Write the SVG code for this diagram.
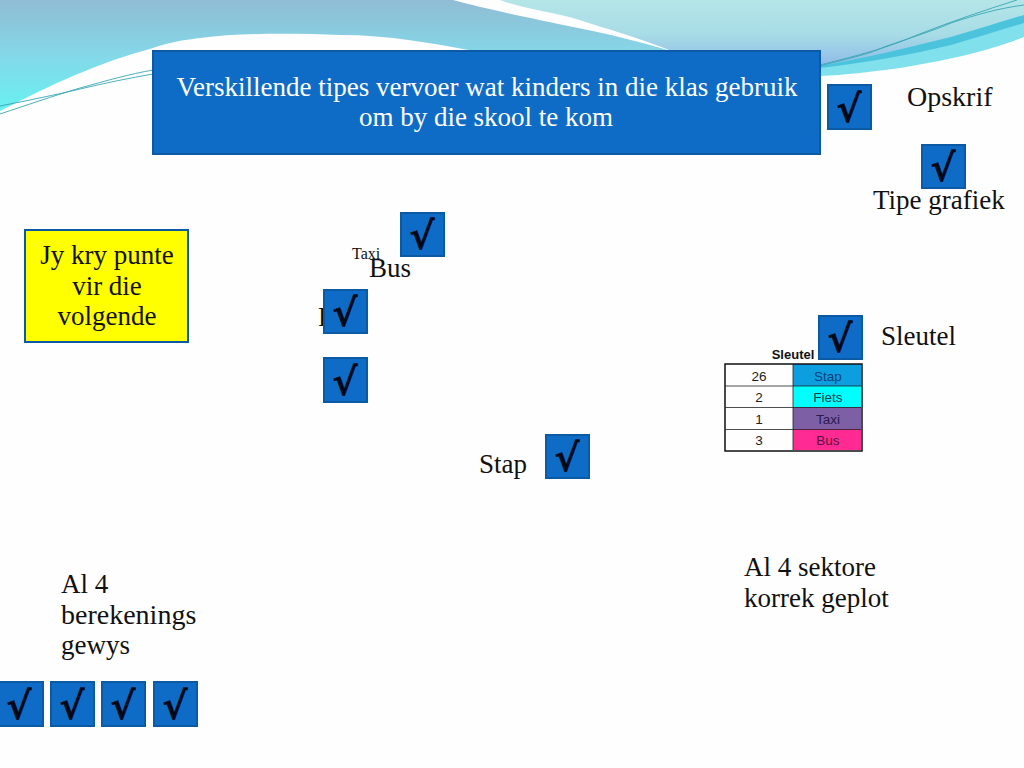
<svg xmlns="http://www.w3.org/2000/svg" width="1024" height="768" viewBox="0 0 1024 768">
<style>
.t{font-family:"Liberation Serif",serif;fill:#111}
.l{font-size:27px}
.c rect{fill:#0f6cc6;stroke:#0d5aa4;stroke-width:2}
.c text{font-family:"DejaVu Serif",serif;font-size:38px;font-weight:bold;fill:#020818;stroke:#020818;stroke-width:.6;text-anchor:middle}
.k{font-family:"Liberation Sans",sans-serif;font-size:13.5px;text-anchor:middle}
</style>
<defs>
<linearGradient id="a" gradientUnits="userSpaceOnUse" x1="0" y1="0" x2="0" y2="110"><stop offset="0" stop-color="#90bcd4"/><stop offset=".5" stop-color="#84d8e8"/><stop offset="1" stop-color="#68f0f2"/></linearGradient>
<linearGradient id="b" gradientUnits="userSpaceOnUse" x1="0" y1="0" x2="0" y2="68"><stop offset="0" stop-color="#b4e6e8"/><stop offset=".5" stop-color="#a8dce6"/><stop offset="1" stop-color="#8cb8e8"/></linearGradient>
</defs>
<rect width="1024" height="768" fill="#fefefe"/>
<path d="M0 0H453C490 10 540 20 573 27C610 34 640 42 674 52H480C430 43 390 35 340 35C290 33 240 33 200 38C175 41 165 44 153 48C100 62 50 85 0 111Z" fill="url(#a)"/>
<path d="M500 0H1024V15C960 40 890 60 820 68V52H674C640 38 610 30 573 18C545 11 520 8 500 0Z" fill="url(#b)"/>
<path d="M820 66C870 57 910 47 951 37C975 30 1000 22 1024 15V37C990 50 960 58 900 68C870 72 845 75 820 76Z" fill="#80e0ec"/>
<path d="M820 66C870 57 910 47 951 37C975 30 1000 22 1024 15V23C1000 30 975 38 951 45C910 55 870 62 820 68Z" fill="#4cc3dc"/>
<path d="M820 65C860 55 890 47 917 35C950 22 985 10 1017 0M820 66C850 58 870 54 884 47C910 38 935 30 951 23C975 15 1000 8 1024 5" fill="none" stroke="#3aa6b4" stroke-width=".9"/>
<path d="M0 114C30 104 50 97 80 88C105 81 130 74 153 70M0 106C30 100 55 95 80 89C105 83 130 78 153 74" fill="none" stroke="#3aa6b4" stroke-width=".9"/>
<g id="title"><rect x="153" y="51" width="667" height="103" fill="#0f6cc6" stroke="#0d5aa4" stroke-width="2"/>
<text x="487" y="96" text-anchor="middle" font-family="Liberation Serif,serif" font-size="27" fill="#fff">Verskillende tipes vervoer wat kinders in die klas gebruik</text>
<text x="486" y="126" text-anchor="middle" font-family="Liberation Serif,serif" font-size="27" fill="#fff">om by die skool te kom</text></g>
<g id="note"><rect x="25" y="230" width="163" height="112" fill="#ffff00" stroke="#0d5aa4" stroke-width="2"/>
<g class="t l" text-anchor="middle"><text x="107" y="264">Jy kry punte</text><text x="107" y="295">vir die</text><text x="107" y="325">volgende</text></g></g>
<g id="labels" class="t l">
<text x="907" y="106" font-size="28">Opskrif</text>
<text x="873" y="209">Tipe grafiek</text>
<text x="369" y="277">Bus</text>
<text x="352" y="259" style="font-size:16px">Taxi</text>
<text x="318" y="326">F</text>
<text x="881" y="345">Sleutel</text>
<text x="479" y="473">Stap</text>
<text x="744" y="576">Al 4 sektore</text>
<text x="744" y="607">korrek geplot</text>
<text x="61" y="593">Al 4</text>
<text x="61" y="624" style="font-size:28px">berekenings</text>
<text x="61" y="654">gewys</text>
</g>
<g id="key">
<text x="793" y="359" font-family="Liberation Sans,sans-serif" font-size="13" font-weight="bold" text-anchor="middle" fill="#111">Sleutel</text>
<rect x="793" y="364" width="68" height="22" fill="#0d9ee0"/><rect x="793" y="386" width="68" height="21" fill="#00ffff"/><rect x="793" y="407" width="68" height="22" fill="#7d5fa5"/><rect x="793" y="429" width="68" height="21" fill="#ff2a92"/>
<rect x="725" y="364" width="137" height="87" fill="none" stroke="#111" stroke-width="1.5"/>
<path d="M725 386H861M725 407.500H861M725 429.500H861M793 364V450" stroke="#222" stroke-width=".8" fill="none"/>
<text class="k" fill="#222" x="759" y="381">26</text><text class="k" fill="#222" x="759" y="402">2</text><text class="k" fill="#222" x="759" y="424">1</text><text class="k" fill="#222" x="759" y="445">3</text>
<text class="k" fill="#0a3f78" x="828" y="381">Stap</text><text class="k" fill="#123c50" x="828" y="402">Fiets</text><text class="k" fill="#2a1a50" x="828" y="424">Taxi</text><text class="k" fill="#60103f" x="828" y="445">Bus</text>
</g>
<g id="check1" class="c"><rect x="828" y="85" width="43" height="44"/><text x="849" y="122">√</text></g>
<g id="check2" class="c"><rect x="922" y="145" width="43" height="43"/><text x="943" y="181">√</text></g>
<g id="check3" class="c"><rect x="401" y="213" width="43" height="43"/><text x="422" y="249">√</text></g>
<g id="check4" class="c"><rect x="324" y="290" width="43" height="43"/><text x="345" y="326">√</text></g>
<g id="check5" class="c"><rect x="324" y="358" width="43" height="44"/><text x="345" y="395">√</text></g>
<g id="check6" class="c"><rect x="819" y="316" width="43" height="43"/><text x="840" y="352">√</text></g>
<g id="check7" class="c"><rect x="546" y="435" width="43" height="43"/><text x="567" y="471">√</text></g>
<g id="check8" class="c"><rect x="-1" y="682" width="44" height="44"/><text x="19" y="719">√</text></g>
<g id="check9" class="c"><rect x="51" y="682" width="43" height="44"/><text x="72" y="719">√</text></g>
<g id="check10" class="c"><rect x="102" y="682" width="43" height="44"/><text x="123" y="719">√</text></g>
<g id="check11" class="c"><rect x="154" y="682" width="43" height="44"/><text x="175" y="719">√</text></g>
</svg>
